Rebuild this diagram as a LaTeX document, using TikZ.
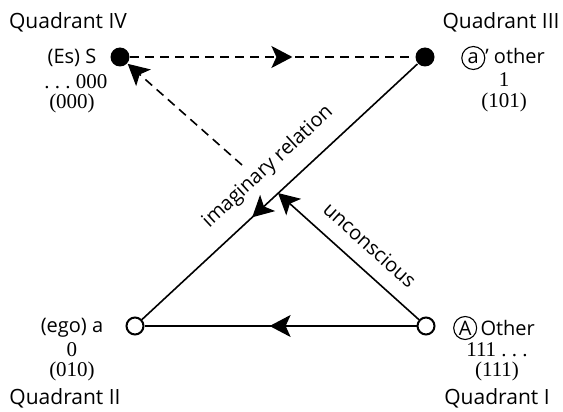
\documentclass[tikz,border=0pt]{standalone}
\usepackage{fontspec}
\setmainfont{Open Sans}
\newfontfamily\numfont{Liberation Serif}
\usetikzlibrary{arrows.meta,decorations.markings,positioning}

\newcommand\circlet[1]{\tikz[baseline=(c.base)]\node[draw,circle,inner sep=1pt,minimum size=23pt,line width=1.1pt] (c) {#1};}

\tikzset{
  hollow/.style={circle,draw,line width=2pt,fill=white,minimum size=17pt,inner sep=0pt},
  fulldot/.style={circle,fill,minimum size=19pt,inner sep=0pt},
  quad/.style={font=\fontsize{21}{24}\selectfont},
  lab/.style={font=\fontsize{20}{24}\selectfont},
  num/.style={font=\numfont\fontsize{21}{24}\selectfont},
  bigtip/.tip={Stealth[length=21pt,width=22pt,inset=5pt]},
  midarrow/.style={postaction={decorate},decoration={markings,
      mark=at position #1 with {\arrow{bigtip}}}},
}

\begin{document}
\begin{tikzpicture}[x=1pt,y=-1pt,line width=1.6pt]
      \useasboundingbox (0,0) rectangle (563,412);
%
      \node[fulldot] (S) at (120,57) {};
      \node[fulldot] (aprime) at (425,57) {};
      \node[hollow] (ego) at (135,326) {};
      \node[hollow] (bigA) at (426,326) {};
      %
      \coordinate (dashend) at (242,165);%%
      \coordinate (hit) at (278,193);%%
%
      \draw[dashed,dash pattern=on 9pt off 6pt,midarrow=0.57] (S) -- (aprime);%
      \draw[dashed,dash pattern=on 9pt off 6pt,-{bigtip}] (dashend) -- (S);%
      \draw[midarrow=0.6] (aprime) -- (ego);%
      \draw[-{bigtip}] (bigA) -- (hit);%
      \draw[midarrow=0.54] (bigA) -- (ego);%
%
      \node[lab,rotate=42.7] (imag) at (268,167) {imaginary relation};
      \node[lab,rotate=-42] (uncon) at (370,245) {unconscious};
%
      \node[quad] (q4) at (68,22) {Quadrant IV};
      \node[lab] (S-name) at (72,58) {(Es) S};
      \node[num] (S-num) at (76,82) {.\ .\ .\ 000};
      \node[num] (S-code) at (72,103) {(000)};
%
      \node[quad] (q3) at (501,22) {Quadrant III};
      \node[lab] (aprime-name) at (503,58) {\circlet{a}' other};
      \node[num] (aprime-num) at (504,80) {1};
      \node[num] (aprime-code) at (504,102) {(101)};
%
      \node[lab] (ego-name) at (72,328) {(ego) a};
      \node[num] (ego-num) at (72,350) {0};
      \node[num] (ego-code) at (72,371) {(010)};
      \node[quad] (q2) at (65,398) {Quadrant II};
%
      \node[lab] (bigA-name) at (494,328) {\circlet{A}\,Other};
      \node[num] (bigA-num) at (497,350) {111\ .\ .\ .};
      \node[num] (bigA-code) at (497,371) {(111)};
      \node[quad] (q1) at (497,398) {Quadrant I};
   \end{tikzpicture}
\end{document}
